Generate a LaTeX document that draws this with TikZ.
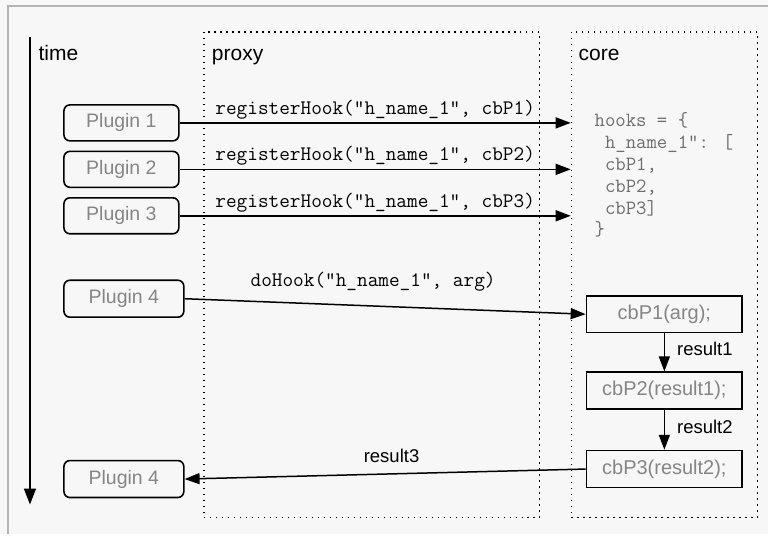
\documentclass[tikz,border=0pt]{standalone}
\usepackage{fontspec}
\setmainfont{Liberation Sans}
\usetikzlibrary{arrows.meta,positioning}
\definecolor{bgcol}{HTML}{F7F7F7}
\definecolor{framecol}{HTML}{B4B4B4}
\definecolor{txtgray}{HTML}{858585}
\definecolor{hookgray}{HTML}{6E6E6E}

\begin{document}
\begin{tikzpicture}[x=1pt,y=-1pt,
        arr/.style={line width=1.5pt,-{Triangle[length=15pt,width=11pt]}},
        lane/.style={draw,line width=1.5pt,dash pattern=on 1.5pt off 4.5pt,minimum height=486},
        title/.style={inner sep=0pt,anchor=base west,font=\fontsize{21}{25}\selectfont},
        plugin/.style={draw,line width=1.6pt,rounded corners=6pt,text=txtgray,
            font=\fontsize{19.5}{23}\selectfont},
        cbbox/.style={draw,line width=1.6pt,minimum width=156,minimum height=37,text=txtgray,
            font=\fontsize{20}{24}\selectfont},
        code/.style={inner sep=0pt,font=\ttfamily\fontsize{20.7}{24}\selectfont},
        reslbl/.style={inner sep=0pt,font=\fontsize{18.5}{22}\selectfont}]

    \fill[bgcol] (0,0) rectangle (769,535);
    \draw[framecol,line width=1.5pt] (8,535) -- (8,6) -- (769,6);

    \useasboundingbox (0,0) rectangle (769,535);

    % time axis
    \coordinate (t0) at (30,37);
    \coordinate (t1) at (30,505);
    \draw[line width=1.5pt,-{Triangle[length=16pt,width=12pt]}] (t0) -- (t1);
    \node[title] (timelbl) at (38.5,61) {time};

    % proxy and core columns
    \node[lane,minimum width=336] (proxybox) at (372,275) {};
    \node[lane,minimum width=186] (corebox) at (665,275) {};
    \node[title] (proxylbl) at (212,61) {proxy};
    \node[title] (corelbl) at (579,61) {core};

    % plugins
    \node[plugin,minimum width=115,minimum height=36] (p1) at (121.5,123) {Plugin 1};
    \node[plugin,minimum width=115,minimum height=36] (p2) at (121.5,169.5) {Plugin 2};
    \node[plugin,minimum width=115,minimum height=36] (p3) at (121.5,216) {Plugin 3};
    \node[plugin,minimum width=120,minimum height=37] (p4call) at (124,299) {Plugin 4};
    \node[plugin,minimum width=120,minimum height=37] (p4ret) at (124,479.5) {Plugin 4};

    \draw[arr] (p1.east) -- (p1.east -| corebox.west)
        node[midway,above=3pt,code] {registerHook(“h\_name\_1”, cbP1)};
    \draw[arr] (p2.east) -- (p2.east -| corebox.west)
        node[midway,above=3pt,code] {registerHook(“h\_name\_1”, cbP2)};
    \draw[arr] (p3.east) -- (p3.east -| corebox.west)
        node[midway,above=3pt,code] {registerHook(“h\_name\_1”, cbP3)};

    \node[anchor=north west,inner sep=0pt,align=left,text=hookgray,
        font=\ttfamily\fontsize{20.2}{22}\selectfont] (hooks) at (595,112)
        {hooks = \{\\
         \hphantom{x}h\_name\_1”: [\\
         \hphantom{x}cbP1,\\
         \hphantom{x}cbP2,\\
         \hphantom{x}cbP3]\\
         \}};

    % callbacks
    \node[cbbox] (cb1) at (665,314.5) {cbP1(arg);};
    \node[cbbox] (cb2) at (665,391) {cbP2(result1);};
    \node[cbbox] (cb3) at (665,469.5) {cbP3(result2);};

    \draw[arr] (p4call.east) -- (cb1.west)
        node[pos=0.47,above=14pt,code] {doHook(“h\_name\_1”, arg)};
    \draw[arr] (cb1.south) -- (cb2.north) node[pos=0.42,right=12pt,reslbl] {result1};
    \draw[arr] (cb2.south) -- (cb3.north) node[pos=0.42,right=12pt,reslbl] {result2};
    \draw[arr] (cb3.west) -- (p4ret.east) node[pos=0.484,above=10pt,reslbl] {result3};

\end{tikzpicture}
\end{document}
